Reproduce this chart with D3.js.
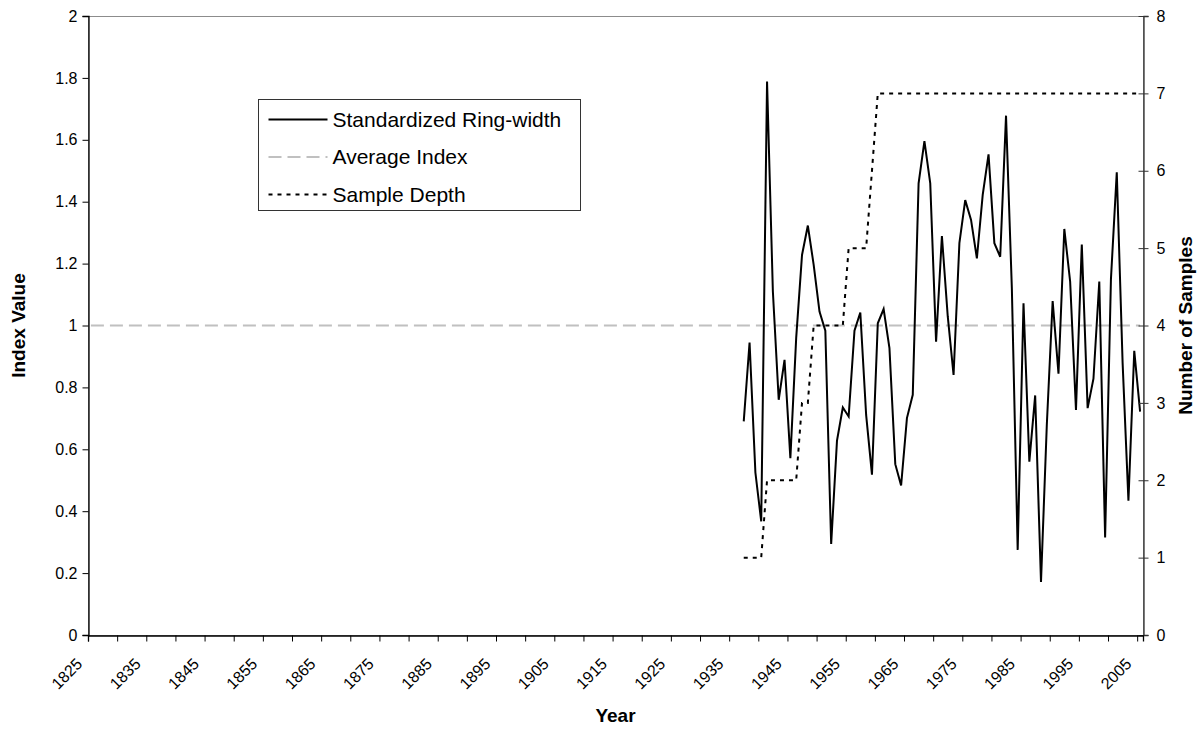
<!DOCTYPE html>
<html>
<head>
<meta charset="utf-8">
<script src="https://cdn.jsdelivr.net/npm/d3@7/dist/d3.min.js"></script>
<style>
  html, body { margin: 0; padding: 0; background: #fff; }
  svg { display: block; font-family: "Liberation Sans", Arial, sans-serif; }
</style>
</head>
<body>
<svg id="chart" width="1204" height="729"></svg>
<script>
// Category axis: one slot per year
const firstYear = 1825;
const lastYear = 2005;
const xLabelYears = [1825, 1835, 1845, 1855, 1865, 1875, 1885, 1895, 1905, 1915,
                     1925, 1935, 1945, 1955, 1965, 1975, 1985, 1995, 2005];
const yLeftTicks = [0, 0.2, 0.4, 0.6, 0.8, 1, 1.2, 1.4, 1.6, 1.8, 2];
const yRightTicks = [0, 1, 2, 3, 4, 5, 6, 7, 8];

// Chronology years and values
const ringYears = [
  1937, 1938, 1939, 1940, 1941, 1942, 1943, 1944, 1945, 1946,
  1947, 1948, 1949, 1950, 1951, 1952, 1953, 1954, 1955, 1956,
  1957, 1958, 1959, 1960, 1961, 1962, 1963, 1964, 1965, 1966,
  1967, 1968, 1969, 1970, 1971, 1972, 1973, 1974, 1975, 1976,
  1977, 1978, 1979, 1980, 1981, 1982, 1983, 1984, 1985, 1986,
  1987, 1988, 1989, 1990, 1991, 1992, 1993, 1994, 1995, 1996,
  1997, 1998, 1999, 2000, 2001, 2002, 2003, 2004, 2005
];
const ringWidth = [
  0.690, 0.945, 0.525, 0.367, 1.788, 1.110, 0.760, 0.889, 0.571, 0.960,
  1.228, 1.323, 1.196, 1.045, 0.983, 0.294, 0.628, 0.735, 0.706, 0.983,
  1.042, 0.711, 0.518, 1.007, 1.053, 0.927, 0.552, 0.483, 0.701, 0.776,
  1.459, 1.596, 1.459, 0.948, 1.289, 1.030, 0.840, 1.266, 1.405, 1.341,
  1.217, 1.422, 1.553, 1.266, 1.222, 1.678, 1.120, 0.275, 1.072, 0.560,
  0.774, 0.171, 0.680, 1.079, 0.844, 1.312, 1.142, 0.727, 1.262, 0.733,
  0.828, 1.142, 0.315, 1.150, 1.495, 0.880, 0.434, 0.918, 0.722
];
const sampleDepth = [
  1, 1, 1, 1, 2, 2, 2, 2, 2, 2,
  3, 3, 4, 4, 4, 4, 4, 4, 5, 5,
  5, 5, 6, 7, 7, 7, 7, 7, 7, 7,
  7, 7, 7, 7, 7, 7, 7, 7, 7, 7,
  7, 7, 7, 7, 7, 7, 7, 7, 7, 7,
  7, 7, 7, 7, 7, 7, 7, 7, 7, 7,
  7, 7, 7, 7, 7, 7, 7, 7, 7
];
const averageIndex = 1;

const legendLabels = ["Standardized Ring-width", "Average Index", "Sample Depth"];

// Layout
const plot = { left: 88, right: 1143, top: 16, bottom: 635 };
const svg = d3.select("#chart");

const x = d3.scaleLinear()
  .domain([firstYear - 0.5, lastYear + 0.5])
  .range([plot.left, plot.right]);
const yL = d3.scaleLinear().domain([0, 2]).range([plot.bottom, plot.top]);
const yR = d3.scaleLinear().domain([0, 8]).range([plot.bottom, plot.top]);

// Plot area frame
svg.append("rect")
  .attr("x", plot.left + 0.5).attr("y", plot.top + 0.5)
  .attr("width", plot.right - plot.left).attr("height", plot.bottom - plot.top)
  .attr("fill", "none").attr("stroke", "#8c8c8c").attr("stroke-width", 1);

// Average index (reference line across all categories)
const allYears = d3.range(firstYear, lastYear + 1);
svg.append("path")
  .datum(allYears)
  .attr("fill", "none")
  .attr("stroke", "#c0c0c0")
  .attr("stroke-width", 2)
  .attr("stroke-dasharray", "13,6")
  .attr("d", d3.line().x(d => x(d)).y(() => yL(averageIndex)));

// Sample depth on the right-hand axis
svg.append("path")
  .datum(ringYears.map((yr, i) => [yr, sampleDepth[i]]))
  .attr("fill", "none")
  .attr("stroke", "#000")
  .attr("stroke-width", 2)
  .attr("stroke-dasharray", "4,5")
  .attr("d", d3.line().x(d => x(d[0])).y(d => yR(d[1])));

// Standardized ring-width index
svg.append("path")
  .datum(ringYears.map((yr, i) => [yr, ringWidth[i]]))
  .attr("fill", "none")
  .attr("stroke", "#000")
  .attr("stroke-width", 2)
  .attr("stroke-linejoin", "miter")
  .attr("d", d3.line().x(d => x(d[0])).y(d => yL(d[1])));

// Left axis
const gL = svg.append("g").attr("transform", `translate(${plot.left + 0.5},0)`);
gL.call(d3.axisLeft(yL).tickValues(yLeftTicks).tickSize(6).tickFormat(d3.format("~g")));
gL.select(".domain").attr("stroke", "#000").attr("stroke-width", 1.3);
gL.selectAll(".tick line").attr("stroke", "#000");
gL.selectAll(".tick text")
  .attr("x", -11)
  .attr("font-size", 16)
  .attr("font-family", "Liberation Sans, Arial, sans-serif")
  .attr("fill", "#000");

// Right axis with crossing ticks
const gR = svg.append("g").attr("transform", `translate(${plot.right + 0.5},0)`);
gR.call(d3.axisRight(yR).tickValues(yRightTicks).tickSize(5).tickSizeInner(5));
gR.select(".domain").attr("stroke", "#333").attr("stroke-width", 1.3);
gR.selectAll(".tick line").attr("x1", -5).attr("x2", 5).attr("stroke", "#333");
gR.selectAll(".tick text")
  .attr("x", 13)
  .attr("font-size", 16)
  .attr("font-family", "Liberation Sans, Arial, sans-serif")
  .attr("fill", "#000");

// Bottom axis: ticks on category boundaries every five years
const boundaryTicks = d3.range(firstYear - 0.5, lastYear + 0.5, 5);
const gB = svg.append("g").attr("transform", `translate(0,${plot.bottom + 0.5})`);
gB.call(d3.axisBottom(x).tickValues(boundaryTicks).tickSize(6).tickFormat(""));
gB.select(".domain").attr("stroke", "#000").attr("stroke-width", 1.3);
gB.selectAll(".tick line").attr("stroke", "#000");

// Rotated year labels centred on their category
svg.append("g")
  .selectAll("text")
  .data(xLabelYears)
  .join("text")
  .attr("transform", d => `translate(${x(d) - 7.5},${plot.bottom + 30}) rotate(-45)`)
  .attr("text-anchor", "end")
  .attr("font-size", 16)
  .attr("fill", "#000")
  .text(d => d);

// Axis titles
svg.append("text")
  .attr("transform", `translate(25,${(plot.top + plot.bottom) / 2}) rotate(-90)`)
  .attr("text-anchor", "middle")
  .attr("font-size", 19).attr("font-weight", "bold")
  .text("Index Value");

svg.append("text")
  .attr("transform", `translate(1192,${(plot.top + plot.bottom) / 2}) rotate(-90)`)
  .attr("text-anchor", "middle")
  .attr("font-size", 19).attr("font-weight", "bold")
  .text("Number of Samples");

svg.append("text")
  .attr("x", (plot.left + plot.right) / 2)
  .attr("y", 722)
  .attr("text-anchor", "middle")
  .attr("font-size", 19).attr("font-weight", "bold")
  .text("Year");

// Legend
const legend = svg.append("g").attr("transform", "translate(258.5,99.5)");
legend.append("rect")
  .attr("width", 322).attr("height", 111)
  .attr("fill", "#fff").attr("stroke", "#333").attr("stroke-width", 1);
const legendStyles = [
  { stroke: "#000", dash: null },
  { stroke: "#c0c0c0", dash: "13,6" },
  { stroke: "#000", dash: "4,5" }
];
const rows = legend.selectAll("g.row")
  .data(legendLabels)
  .join("g")
  .attr("class", "row")
  .attr("transform", (d, i) => `translate(0,${20 + i * 37.5})`);
rows.append("line")
  .attr("x1", 10).attr("x2", 69)
  .attr("y1", 0).attr("y2", 0)
  .attr("stroke", (d, i) => legendStyles[i].stroke)
  .attr("stroke-width", 2)
  .attr("stroke-dasharray", (d, i) => legendStyles[i].dash);
rows.append("text")
  .attr("x", 74).attr("y", 0).attr("dy", "0.35em")
  .attr("font-size", 21)
  .attr("fill", "#000")
  .text(d => d);
</script>
</body>
</html>
